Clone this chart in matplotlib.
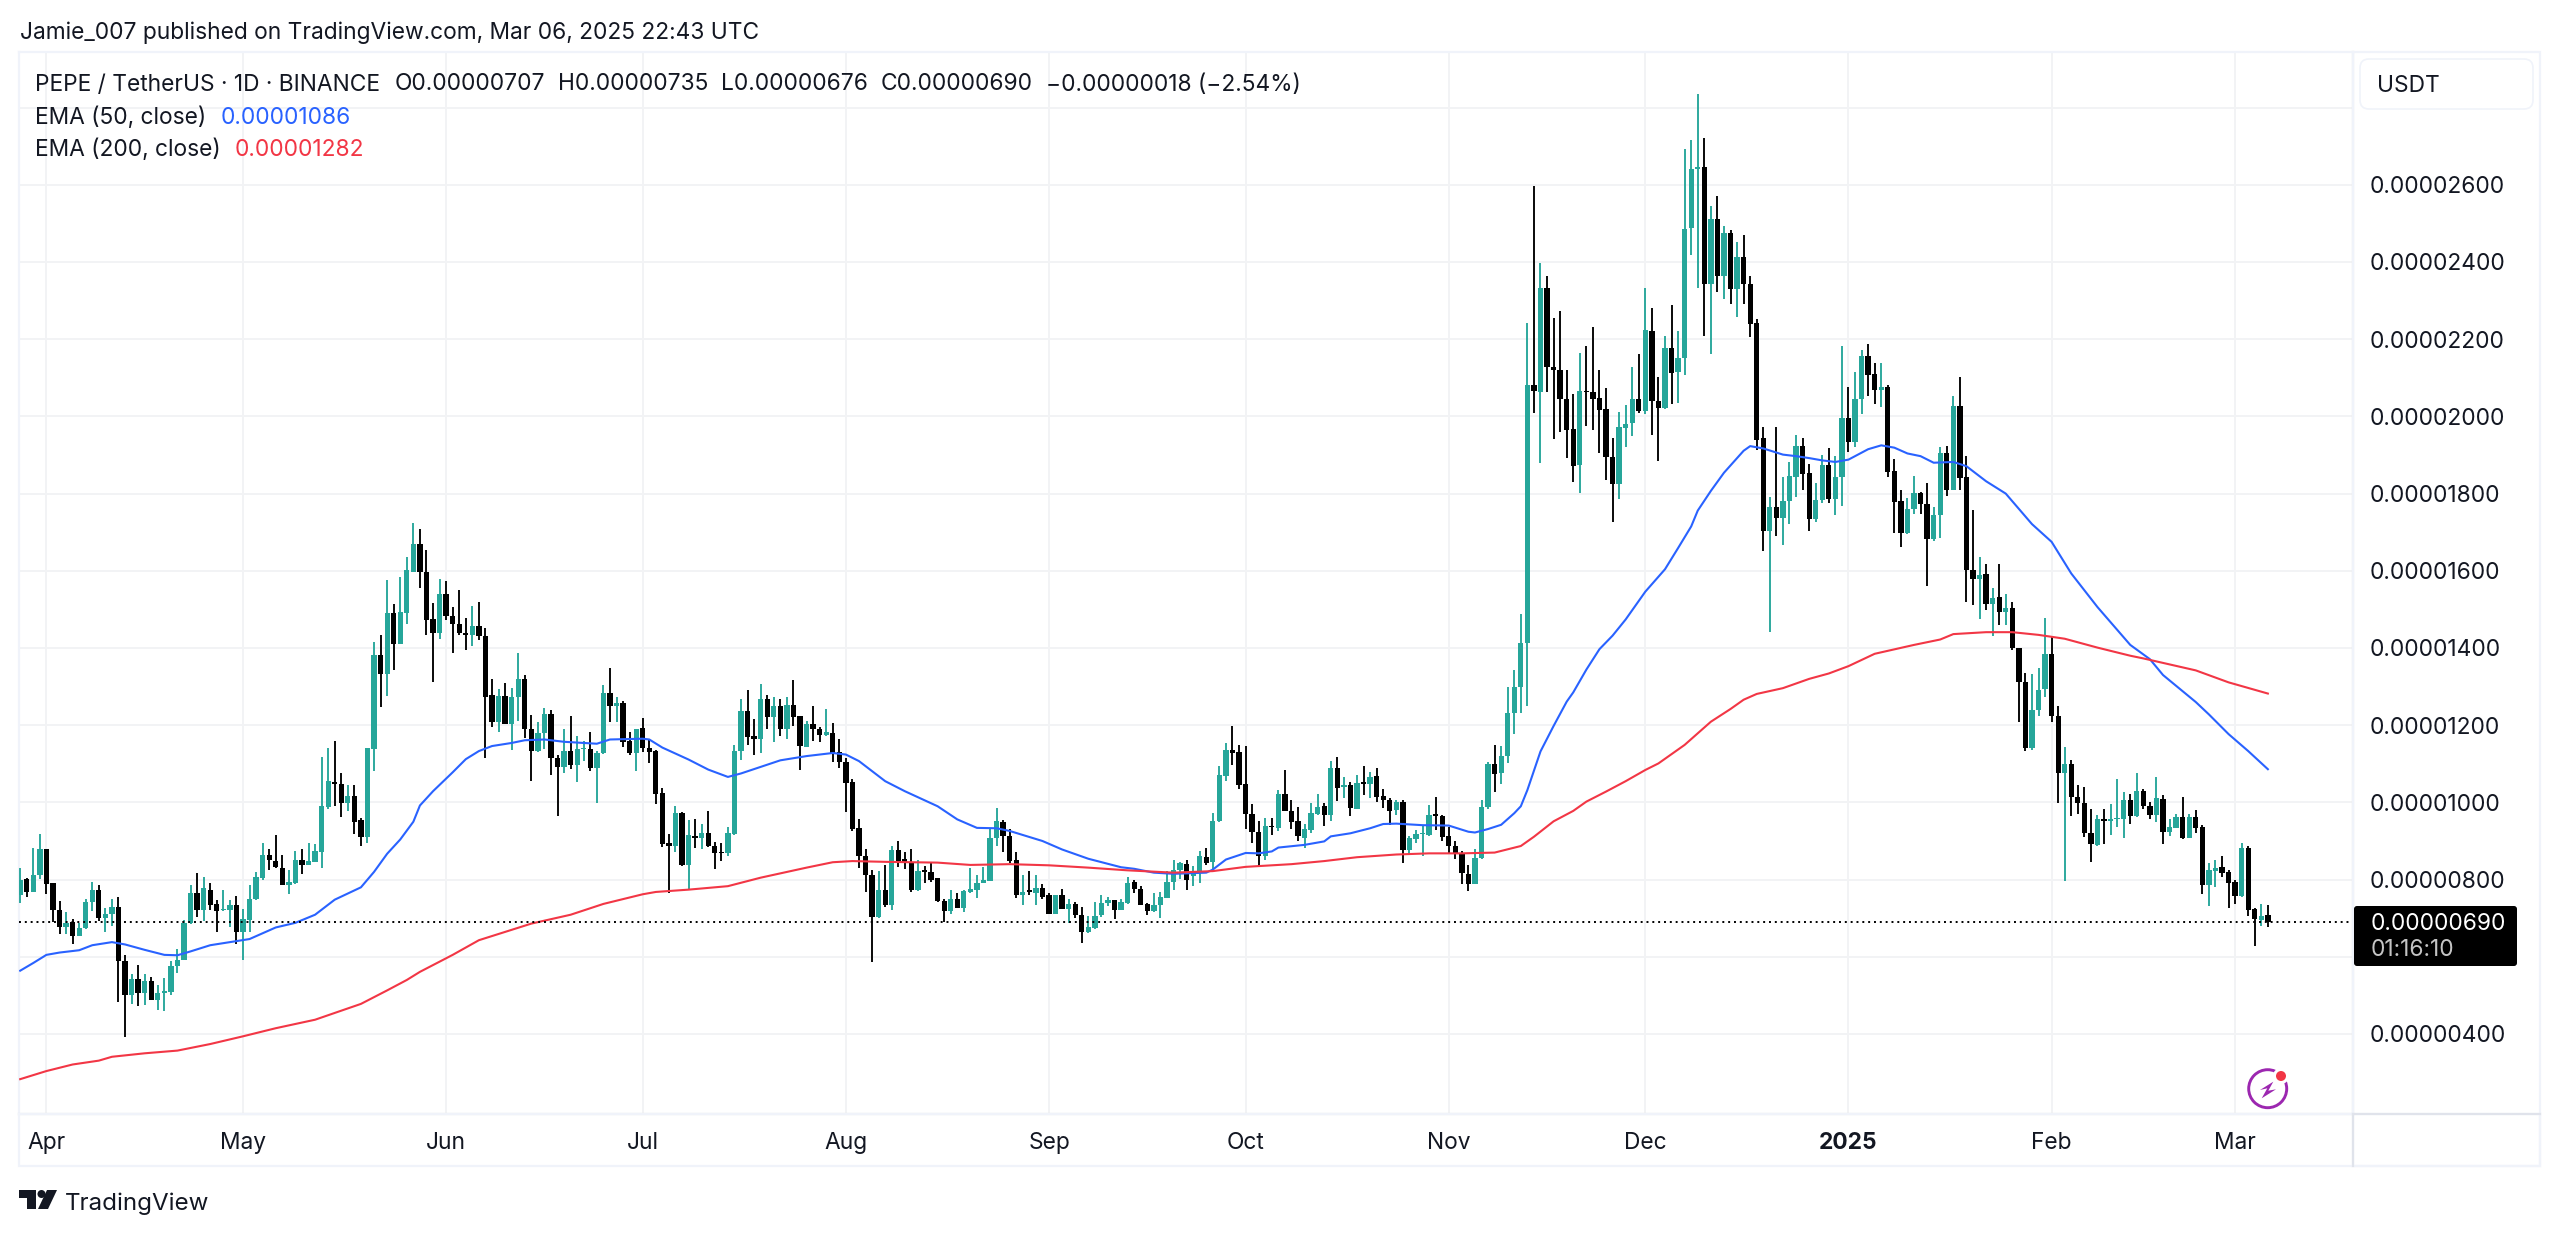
import numpy as np
import matplotlib
matplotlib.use("Agg")
import matplotlib.pyplot as plt
from matplotlib.patches import Circle, FancyBboxPatch, Polygon, Rectangle

plt.rcParams['font.family'] = ['Inter', 'DejaVu Sans']

# All prices in units of 0.00000001 USDT; day 0 = 1 Apr 2024
first_day = -4
opens = [760,802,769,811,
880,790,721,677,689,653,674,741,774,700,
712,729,590,501,542,507,538,489,507,510,
575,593,688,765,721,774,737,720,720,734,
663,695,749,803,864,848,831,786,790,852,
837,846,872,987,1054,1048,998,1016,954,911,
1138,1383,1332,1491,1411,1491,1598,1669,1598,1475,
1439,1540,1482,1462,1440,1433,1457,1431,1278,1209,
1276,1204,1272,1320,1190,1133,1181,1230,1114,1093,
1132,1096,1138,1139,1088,1127,1283,1251,1258,1158,
1127,1193,1141,1133,1025,894,888,973,839,914,
907,921,888,871,868,919,1133,1238,1171,1165,
1267,1222,1250,1189,1252,1224,1144,1202,1189,1174,
1180,1131,1105,1053,933,861,811,703,774,735,
876,854,843,772,824,819,803,744,718,750,
727,767,774,792,796,907,949,914,852,761,
772,766,777,761,710,761,725,738,709,664,
675,707,740,746,722,740,793,776,737,718,
734,753,793,824,841,809,818,859,845,951,
1068,1137,1130,1048,970,923,862,940,933,1022,
978,951,909,929,970,990,968,1089,1039,1044,
984,1052,1048,1069,1017,1007,981,1001,877,905,
918,916,970,964,912,887,870,815,789,855,
988,1100,1076,1119,1231,1299,1414,2082,2062,2332,
2127,2119,2045,1967,1875,2066,2062,2048,2020,1895,
1826,1971,1983,2045,2015,2221,2039,2022,2177,2115,
2152,2488,2640,2647,2344,2511,2363,2474,2330,2412,
2344,2242,1943,1702,1765,1738,1782,1844,1923,1853,
1735,1784,1874,1787,1842,1995,1934,2045,2157,2110,
2069,2076,1858,1781,1698,1761,1801,1773,1682,1745,
1906,1810,2027,1844,1601,1578,1591,1515,1531,1492,
1503,1401,1311,1142,1239,1293,1385,1223,1075,1099,
1013,999,920,889,957,952,957,957,1006,964,
1029,990,968,1009,924,934,961,909,961,935,
786,823,832,820,793,757,883,724,695,707]
highs = [829,804,883,919,
880,792,744,716,697,688,751,794,785,727,
749,755,605,556,579,556,547,528,544,588,
621,695,785,817,808,790,746,774,746,758,
725,787,820,896,878,915,864,825,874,878,
894,892,1118,1142,1158,1077,1044,1044,959,1142,
1415,1433,1575,1515,1584,1637,1723,1709,1653,1517,
1579,1574,1505,1549,1477,1510,1519,1452,1320,1295,
1309,1297,1387,1331,1227,1209,1244,1240,1124,1189,
1225,1172,1158,1183,1133,1305,1348,1272,1262,1183,
1190,1219,1165,1135,1038,919,990,976,954,957,
943,979,897,894,936,1148,1269,1290,1215,1307,
1277,1274,1269,1273,1316,1225,1211,1250,1196,1243,
1205,1165,1116,1061,956,878,824,822,837,888,
901,872,878,852,835,846,805,750,772,764,
772,829,811,833,934,986,954,930,871,813,
821,813,789,766,761,776,751,741,729,705,
741,761,754,748,751,806,798,783,740,766,
767,822,850,845,850,835,874,881,973,1094,
1154,1198,1150,1146,995,953,959,959,1033,1083,
1007,988,945,998,1022,998,1108,1118,1067,1054,
1072,1095,1080,1089,1034,1011,1007,1005,913,929,
942,992,1013,968,935,899,873,838,880,1005,
1105,1150,1147,1299,1342,1487,2243,2596,2398,2363,
2256,2273,2119,2057,2165,2182,2231,2119,2074,1944,
2011,2029,2127,2162,2332,2281,2103,2207,2289,2221,
2693,2715,2835,2721,2546,2571,2494,2483,2451,2471,
2363,2252,1972,1790,1972,1842,1883,1953,1943,1877,
1828,1900,1918,1898,2182,2076,2115,2171,2187,2138,
2138,2082,1890,1809,1789,1846,1803,1827,1764,1920,
1923,2052,2101,1898,1758,1636,1617,1556,1617,1540,
1519,1401,1334,1332,1348,1478,1430,1251,1144,1110,
1045,1039,982,967,984,995,1060,1028,1023,1075,
1036,1002,1066,1019,957,969,1015,971,980,941,
842,851,861,825,800,894,887,727,736,735]
lows = [739,755,769,802,
763,689,658,658,633,653,672,718,692,665,
681,482,392,477,473,475,487,462,459,501,
559,591,686,702,692,721,664,718,677,633,
591,664,748,800,825,829,785,762,789,815,
837,846,831,984,991,961,979,917,887,894,
1081,1248,1276,1343,1410,1461,1598,1556,1433,1311,
1424,1473,1388,1434,1396,1405,1422,1114,1195,1183,
1202,1137,1211,1167,1056,1130,1139,1072,966,1075,
1087,1054,1107,1081,999,1126,1209,1209,1144,1124,
1081,1130,1101,997,885,766,872,835,776,882,
878,885,828,848,861,915,1111,1150,1124,1129,
1191,1156,1173,1163,1198,1084,1144,1159,1156,1172,
1104,1090,975,926,830,767,586,701,729,721,
833,828,767,770,792,793,741,690,712,727,
716,766,753,790,796,888,872,842,753,735,
761,735,751,710,710,725,688,701,636,662,
671,703,731,698,722,738,766,733,707,716,
701,753,772,802,774,783,792,837,822,949,
1055,1098,1036,930,895,835,851,916,927,979,
932,899,881,922,968,938,953,1004,1011,964,
983,1020,1011,1002,985,942,968,844,864,894,
860,914,929,900,870,854,788,771,789,853,
984,1028,1047,1101,1176,1231,1249,2009,1879,2064,
1941,1960,1892,1830,1802,1976,1966,1904,1835,1727,
1787,1920,1949,2009,2006,1951,1884,2020,2031,2034,
2108,2418,2333,2207,2161,2321,2305,2290,2258,2290,
2205,1912,1652,1441,1691,1668,1722,1790,1810,1702,
1726,1775,1775,1745,1768,1907,1920,2006,2054,2031,
2025,1844,1699,1662,1696,1747,1747,1560,1677,1685,
1793,1809,1809,1520,1511,1474,1499,1431,1459,1459,
1394,1209,1132,1135,1223,1274,1207,999,796,965,
971,911,846,888,891,915,937,907,943,963,
984,957,950,891,914,933,904,908,921,762,
732,781,806,727,736,756,706,628,681,676]
closes = [800,769,811,880,
788,721,677,688,653,675,741,774,700,712,
729,589,501,542,507,538,489,507,512,577,
593,688,765,721,777,734,718,725,734,663,
697,751,806,864,851,832,786,794,851,837,
848,873,990,1056,1048,998,1016,950,911,1140,
1383,1332,1491,1411,1494,1602,1669,1598,1473,1439,
1540,1482,1461,1440,1434,1457,1431,1274,1207,1276,
1204,1272,1320,1190,1133,1181,1230,1114,1091,1132,
1096,1138,1141,1088,1128,1283,1251,1257,1156,1127,
1190,1141,1130,1023,891,888,973,839,915,909,
921,887,868,868,921,1133,1238,1169,1165,1269,
1222,1250,1189,1252,1221,1146,1202,1189,1174,1183,
1129,1104,1049,932,861,811,703,774,734,876,
848,843,772,822,819,800,744,718,750,727,
770,776,792,799,908,951,913,849,761,768,
767,777,755,712,761,725,738,707,664,678,
705,740,746,722,741,792,776,735,718,734,
754,793,824,842,800,822,861,843,953,1070,
1137,1127,1044,970,923,862,938,937,1022,979,
949,912,931,972,989,968,1089,1037,1044,985,
1050,1047,1067,1015,1007,979,1000,877,907,918,
920,968,966,910,887,868,816,789,855,988,
1100,1074,1119,1231,1299,1414,2082,2065,2332,2127,
2119,2045,1965,1872,2066,2062,2046,2017,1895,1826,
1972,1981,2045,2015,2224,2039,2022,2177,2113,2152,
2485,2640,2647,2344,2511,2363,2474,2330,2412,2344,
2240,1939,1702,1765,1738,1782,1846,1923,1852,1735,
1784,1874,1786,1842,1995,1934,2045,2157,2108,2069,
2076,1856,1779,1698,1761,1801,1773,1682,1745,1906,
1810,2027,1841,1601,1578,1590,1515,1529,1492,1503,
1399,1311,1142,1239,1291,1385,1223,1075,1099,1013,
999,920,891,957,952,957,960,1006,965,1029,
990,968,1012,924,935,961,908,961,934,786,
825,831,818,790,757,881,721,697,706,690]

ema50_days = [-4,-2,0,2,5,7,10,12,15,18,20,22,25,28,31,35,38,41,44,48,50,52,54,56,57,59,62,64,66,68,71,73,76,79,84,86,91,
92,94,98,101,104,106,109,112,116,120,122,124,128,131,136,139,142,145,147,152,155,159,164,166,169,172,177,178,180,183,185,
187,188,192,195,196,199,202,204,206,210,214,217,218,220,222,224,225,226,228,230,232,233,235,237,239,241,244,247,249,251,252,254,256,259,260,262,265,
267,269,271,273,275,278,280,282,284,286,288,291,293,296,299,303,306,309,313,318,321,323,328,330,333,336,339]
ema50_vals = [564,584,605,611,617,630,638,632,618,605,604,614,630,638,646,676,688,709,748,780,820,867,904,950,992,1029,1078,1112,1133,1146,1154,1161,1163,1157,1152,1163,1165,
1163,1142,1111,1085,1066,1075,1092,1109,1120,1128,1124,1107,1055,1029,990,956,934,933,926,900,878,854,832,828,818,815,818,826,852,869,868,
873,883,890,899,912,920,933,944,945,941,940,924,922,931,942,972,990,1032,1132,1198,1261,1285,1344,1397,1432,1474,1546,1604,1659,1715,1756,1807,1854,1911,1923,1917,1901,
1897,1892,1886,1882,1888,1915,1925,1919,1904,1897,1880,1882,1871,1832,1800,1721,1675,1593,1506,1408,1371,1330,1260,1228,1177,1133,1086]

ema200_days = [-4,0,4,8,10,15,20,25,30,35,41,48,52,55,57,62,66,74,80,85,91,93,98,104,109,116,120,123,128,136,141,147,153,159,165,172,178,183,188,190,195,200,206,211,216,221,225,227,230,233,235,238,241,244,246,248,250,252,254,257,259,261,265,269,272,275,279,285,289,291,296,300,304,308,313,318,320,328,333,339]
ema200_vals = [283,304,321,331,341,350,357,374,394,415,437,478,513,540,561,605,643,686,709,737,762,768,774,783,805,831,845,848,846,844,838,840,837,831,824,818,822,833,838,840,848,858,865,868,868,870,887,911,951,978,1002,1028,1055,1084,1101,1125,1149,1179,1209,1242,1266,1281,1296,1320,1334,1353,1385,1408,1422,1436,1441,1441,1434,1424,1401,1380,1373,1342,1311,1282]

month_days = [0,30,61,91,122,153,183,214,244,275,306,334]
month_labels = ['Apr','May','Jun','Jul','Aug','Sep','Oct','Nov','Dec','2025','Feb','Mar']
price_ticks = [400,600,800,1000,1200,1400,1600,1800,2000,2200,2400,2600,2800]
price_labels = ['0.00000400','','0.00000800','0.00001000','0.00001200','0.00001400','0.00001600',
                '0.00001800','0.00002000','0.00002200','0.00002400','0.00002600','']
last_close = 690

W, H = 2560, 1234
GREEN, BLACK, BLUE, RED = '#26A69A', '#000000', '#2962FF', '#F23645'
TXT, GRID, BORDER, FRAME = '#131722', '#F2F3F5', '#E0E3EB', '#F0F3FA'
FS = 16.4

fig = plt.figure(figsize=(W/100, H/100), dpi=100, facecolor='white')
L, R, T, B = 19, 2353, 52, 1114
ax = fig.add_axes([L/W, 1-B/H, (R-L)/W, (B-T)/H])

# scales: x px = 46.4 + 6.553*day ; y px = 1034 - 0.386*(price-400)
ax.set_xlim((L-46.4)/6.553, (R-46.4)/6.553)
ax.set_ylim(400+(1034-B)/0.386, 400+(1034-T)/0.386)

days = first_day + np.arange(len(closes))
o, h, l, c = map(np.array, (opens, highs, lows, closes))
up = c >= o
cols = np.where(up, GREEN, BLACK)
ax.vlines(days, l, h, colors=cols, linewidth=1.35, zorder=3)
ax.bar(days, np.maximum(np.abs(c-o), 2.5), bottom=np.minimum(o, c), width=0.81, color=cols, linewidth=0, zorder=3)
ax.plot(ema50_days, ema50_vals, color=BLUE, lw=1.5, zorder=4, solid_joinstyle='round')
ax.plot(ema200_days, ema200_vals, color=RED, lw=1.5, zorder=4, solid_joinstyle='round')
ax.axhline(last_close, color='black', lw=1.4, linestyle=(0, (1, 2)), zorder=5)

ax.set_axisbelow(True)
ax.set_xticks(month_days, month_labels)
ax.set_yticks(price_ticks, price_labels)
ax.grid(True, color=GRID, lw=1.4)
ax.yaxis.tick_right()
ax.tick_params(axis='y', length=0, pad=12.3, labelsize=FS, labelcolor=TXT)
ax.tick_params(axis='x', length=0, pad=13, labelsize=FS, labelcolor=TXT)
for lab in ax.get_yticklabels():
    lab.set_verticalalignment('center_baseline')
ax.get_xticklabels()[month_labels.index('2025')].set_fontweight('bold')
for s, col in (('left', FRAME), ('top', FRAME), ('right', BORDER), ('bottom', BORDER)):
    ax.spines[s].set_color(col)
    ax.spines[s].set_linewidth(1.6)

# overlay in pixel coordinates for the page furniture
ov = fig.add_axes([0, 0, 1, 1], zorder=10)
ov.set_xlim(0, W); ov.set_ylim(H, 0); ov.axis('off'); ov.patch.set_alpha(0)
ov.add_patch(Rectangle((R, T), 2540-R, 1166-T, fill=False, ec=FRAME, lw=1.6))
ov.add_patch(Rectangle((L, B), 2540-L, 1166-B, fill=False, ec=FRAME, lw=1.6))
ov.plot([R, R], [B, 1166], color=BORDER, lw=1.6)
ov.plot([R, 2540], [B, B], color=BORDER, lw=1.6)

def t(x, y, s, color=TXT, size=FS, **kw):
    ov.text(x, y, s, color=color, fontsize=size, va='center', ha=kw.pop('ha', 'left'), **kw)

t(20, 32.5, 'Jamie_007 published on TradingView.com, Mar 06, 2025 22:43 UTC')
t(35, 84.5, 'PEPE / TetherUS · 1D · BINANCE')
t(395, 84.5, 'O0.00000707')
t(558, 84.5, 'H0.00000735')
t(721, 84.5, 'L0.00000676')
t(881, 84.5, 'C0.00000690')
t(1046, 84.5, '−0.00000018 (−2.54%)')
t(35, 117.5, 'EMA (50, close)')
t(221, 117.5, '0.00001086', color=BLUE)
t(35, 149.5, 'EMA (200, close)')
t(235, 149.5, '0.00001282', color=RED)

ov.add_patch(FancyBboxPatch((2360, 59), 173, 50, boxstyle='round,pad=0,rounding_size=9',
                            fc='white', ec=FRAME, lw=1.2))
t(2377, 86, 'USDT')

ov.add_patch(FancyBboxPatch((2354, 906), 163, 60, boxstyle='round,pad=0,rounding_size=3',
                            fc='black', ec='none'))
t(2371, 924, '0.00000690', color='white')
t(2371, 950, '01:16:10', color='#C4C4C4')

# lightning badge
ov.add_patch(Circle((2267.7, 1088.7), 19, fill=False, ec='#9C27B0', lw=2.1))
ov.add_patch(Polygon([(2273.3, 1081.7), (2260, 1090), (2267.3, 1088.3), (2261.7, 1098.3),
                      (2276, 1089.3), (2268.3, 1090.7)], closed=True, fc='#9C27B0', ec='none'))
ov.add_patch(Circle((2281, 1076), 8, fc='white', ec='none'))
ov.add_patch(Circle((2281, 1076), 5, fc=RED, ec='none'))

# TradingView mark and name
ov.add_patch(Polygon([(19, 1190), (36, 1190), (36, 1209), (27, 1209), (27, 1198), (19, 1198)], closed=True, fc=TXT, ec='none'))
ov.add_patch(Circle((41.5, 1194), 4, fc=TXT, ec='none'))
ov.add_patch(Polygon([(47, 1190), (57, 1190), (48, 1209), (38, 1209)], closed=True, fc=TXT, ec='none'))
t(65, 1203.5, 'TradingView', size=17.4)

fig.savefig('out.png', dpi=100, facecolor='white')
